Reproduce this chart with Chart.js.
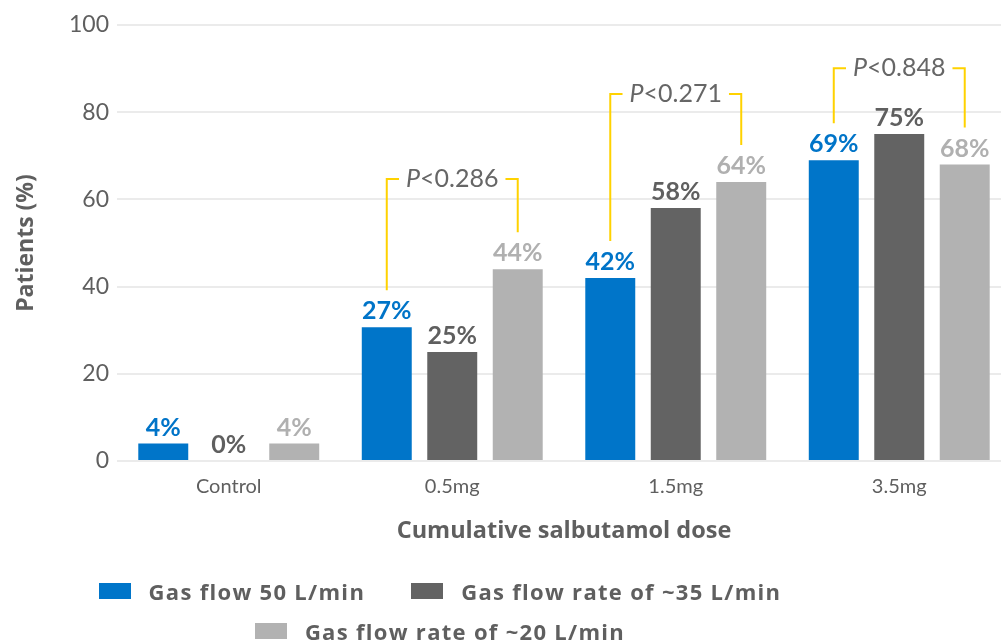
<!DOCTYPE html>
<html>
<head>
<meta charset="utf-8">
<script src="https://cdn.jsdelivr.net/npm/chart.js@4.4.1/dist/chart.umd.min.js"></script>
<style>
html, body { margin: 0; padding: 0; background: #fff; overflow: hidden; }
#wrap { position: relative; width: 1012px; height: 641px; }
#legend { position: absolute; left: 0; top: 571px; width: 880px; font-family: 'Open Sans', sans-serif; font-weight: bold; font-size: 22px; letter-spacing: 1.3px; color: #5f5f5f; }
.row { display: flex; justify-content: center; align-items: center; height: 40px; }
.item { display: flex; align-items: center; margin: 0 23px; }
.box { width: 32px; height: 16px; margin-right: 18px; }
</style>
</head>
<body>
<div id="wrap">
  <canvas id="myChart" width="1012" height="641" style="width:1012px;height:641px"></canvas>
  <div id="legend"></div>
</div>
<script>
// Chart Data
var categories = ['Control', '0.5mg', '1.5mg', '3.5mg'];
var seriesNames = ['Gas flow 50 L/min', 'Gas flow rate of ~35 L/min', 'Gas flow rate of ~20 L/min'];
var flow50 = [4, 30.7, 42, 69];
var flow35 = [0, 25, 58, 75];
var flow20 = [4, 44, 64, 68];
var flow50Labels = ['4%', '27%', '42%', '69%'];
var flow35Labels = ['0%', '25%', '58%', '75%'];
var flow20Labels = ['4%', '44%', '64%', '68%'];
var pValues = [null, '<0.286', '<0.271', '<0.848'];
var pBracketLevel = [null, 64.7, 84.2, 90.1];
var yTicks = [0, 20, 40, 60, 80, 100];
var legendRows = [[0, 1], [2]];

var ctx = document.getElementById('myChart').getContext('2d');
var textGrey = '#5f5f5f';

// value labels above bars
var barLabels = {
    id: 'barLabels',
    afterDatasetsDraw: function(chart) {
        var c = chart.ctx;
        c.save();
        c.font = 'bold 25px Lato';
        c.textAlign = 'center';
        c.textBaseline = 'alphabetic';
        chart.data.datasets.forEach(function(ds, i) {
            chart.getDatasetMeta(i).data.forEach(function(bar, j) {
                c.fillStyle = ds.labelColor;
                c.fillText(ds.valueLabels[j], bar.x, bar.y - 8);
            });
        });
        c.restore();
    }
};

// P value brackets between first and last bar of a group
var pBrackets = {
    id: 'pBrackets',
    afterDatasetsDraw: function(chart) {
        var c = chart.ctx, ys = chart.scales.y, xs = chart.scales.x;
        c.save();
        pValues.forEach(function(p, i) {
            if (!p) return;
            var a = chart.getDatasetMeta(0).data[i];
            var b = chart.getDatasetMeta(2).data[i];
            var top = ys.getPixelForValue(pBracketLevel[i]);
            var cx = xs.getPixelForValue(i);
            c.font = 'italic 25px Lato';
            var wP = c.measureText('P').width;
            c.font = '25px Lato';
            var wR = c.measureText(p).width;
            var tl = cx - (wP + wR) / 2, tr = cx + (wP + wR) / 2;
            c.strokeStyle = '#ffd200';
            c.lineWidth = 2;
            c.beginPath();
            c.moveTo(a.x, a.y - 37); c.lineTo(a.x, top); c.lineTo(tl - 7, top);
            c.moveTo(tr + 7, top); c.lineTo(b.x, top); c.lineTo(b.x, b.y - 37);
            c.stroke();
            c.fillStyle = '#666';
            c.textBaseline = 'middle';
            c.textAlign = 'left';
            c.font = 'italic 25px Lato';
            c.fillText('P', tl, top);
            c.font = '25px Lato';
            c.fillText(p, tl + wP, top);
        });
        c.restore();
    }
};

var data = {
    labels: categories,
    datasets: [
        { label: seriesNames[0], data: flow50, backgroundColor: '#0075c9', labelColor: '#0074c8', valueLabels: flow50Labels },
        { label: seriesNames[1], data: flow35, backgroundColor: '#636363', labelColor: '#5f5f5f', valueLabels: flow35Labels },
        { label: seriesNames[2], data: flow20, backgroundColor: '#b2b2b2', labelColor: '#b0b0b0', valueLabels: flow20Labels }
    ]
};

var myChart = new Chart(ctx, {
    type: 'bar',
    data: data,
    options: {
        responsive: false,
        animation: false,
        layout: { padding: { top: 25, left: 0, right: 1, bottom: 0 } },
        datasets: { bar: { categoryPercentage: 0.879, barPercentage: 0.763, borderWidth: 0 } },
        plugins: {
            legend: { display: false },
            tooltip: { enabled: false }
        },
        scales: {
            x: {
                grid: { display: false },
                border: { display: false },
                ticks: { color: textGrey, font: { family: 'Lato', size: 20 }, padding: 6 },
                title: {
                    display: true,
                    text: 'Cumulative salbutamol dose',
                    color: textGrey,
                    font: { family: 'Open Sans', size: 23.5, weight: 'bold' },
                    padding: { top: 0, bottom: 96 }
                },
                afterFit: function(s) { s.height = 180; }
            },
            y: {
                min: 0,
                max: 100,
                afterBuildTicks: function(s) { s.ticks = yTicks.map(function(v) { return { value: v }; }); },
                grid: { color: '#ebebeb', lineWidth: 2, drawTicks: false },
                border: { display: false },
                ticks: { color: textGrey, font: { family: 'Lato', size: 23 }, padding: 8 },
                title: {
                    display: true,
                    text: 'Patients (%)',
                    color: textGrey,
                    font: { family: 'Open Sans', size: 23, weight: 'bold' },
                    padding: { top: 13, bottom: 0 }
                },
                afterFit: function(s) { s.width = 117; }
            }
        }
    },
    plugins: [barLabels, pBrackets]
});

// legend rows built from the datasets
var legendEl = document.getElementById('legend');
legendRows.forEach(function(row) {
    var r = document.createElement('div');
    r.className = 'row';
    row.forEach(function(i) {
        var ds = data.datasets[i];
        var it = document.createElement('div');
        it.className = 'item';
        var box = document.createElement('span');
        box.className = 'box';
        box.style.background = ds.backgroundColor;
        var txt = document.createElement('span');
        txt.textContent = ds.label;
        it.appendChild(box);
        it.appendChild(txt);
        r.appendChild(it);
    });
    legendEl.appendChild(r);
});
</script>
</body>
</html>
